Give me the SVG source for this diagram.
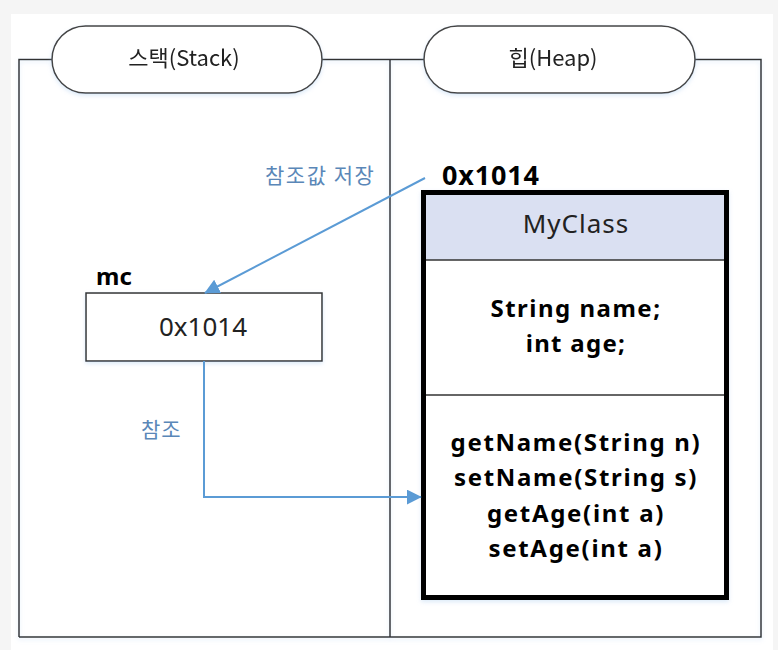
<svg xmlns="http://www.w3.org/2000/svg" width="778" height="650" viewBox="0 0 778 650">
<defs>
<style>
.frame{fill:none;stroke:#333;stroke-width:1.5}
.pill{fill:#fff;stroke:#444;stroke-width:1.5}
.t{font-family:"Noto Sans","Noto Sans CJK KR",sans-serif;fill:#222}
.kr{font-family:"Noto Sans CJK KR","Noto Sans",sans-serif}
.lbl{font-family:"Noto Sans CJK KR","Noto Sans",sans-serif;fill:#5a87b8;font-size:21px}
.b{font-weight:bold;fill:#000}
.conn{fill:none;stroke:#5b9bd5;stroke-width:2}
</style>
<marker id="ah2" viewBox="0 0 10 10" refX="9.5" refY="5" markerWidth="15" markerHeight="15" markerUnits="userSpaceOnUse" orient="auto">
<path d="M0,0 L10,5 L0,10 z" fill="#5b9bd5"/>
</marker>
<filter id="sh" x="-5%" y="-5%" width="110%" height="115%">
<feDropShadow dx="0" dy="2" stdDeviation="2" flood-color="#9dc3ec" flood-opacity="0.35"/>
</filter>
</defs>
<rect width="778" height="650" fill="#f5f5f5"/>
<rect x="11" y="14" width="762" height="636" fill="#fff"/>

<g id="frame" filter="url(#sh)">
<path class="frame" d="M19,637 V59.5 H52 M322,59.5 H424 M695,59.5 H761 V637 H19 M390,59.5 V637"/>
</g>

<g id="stack-title" filter="url(#sh)">
<rect class="pill" x="52" y="26" width="270" height="67" rx="33.5" ry="33.5"/>
<text class="t kr" x="184" y="66" font-size="22" text-anchor="middle" fill="#333">스택(Stack)</text>
</g>

<g id="heap-title" filter="url(#sh)">
<rect class="pill" x="424" y="26" width="271" height="67" rx="33.5" ry="33.5"/>
<text class="t kr" x="553" y="66" font-size="22" text-anchor="middle" fill="#333">힙(Heap)</text>
</g>

<g id="mc">
<text class="t b" x="96" y="285" font-size="24">mc</text>
<rect x="86" y="293" width="236" height="68" fill="#fff" stroke="#333" stroke-width="1.5" filter="url(#sh)"/>
<text class="t" x="203" y="336" font-size="26" text-anchor="middle">0x1014</text>
</g>

<g id="heap-object">
<text class="t b" x="442" y="185" font-size="27" letter-spacing="0.8">0x1014</text>
<g filter="url(#sh)">
<rect x="423.5" y="192.5" width="303" height="405" fill="#fff"/>
<rect x="423.5" y="192.5" width="303" height="67.5" fill="#dae0f2"/>
<line x1="423.5" y1="260" x2="726.5" y2="260" stroke="#333" stroke-width="1.5"/>
<line x1="423.5" y1="395" x2="726.5" y2="395" stroke="#333" stroke-width="1.5"/>
<rect x="423.5" y="192.5" width="303" height="405" fill="none" stroke="#000" stroke-width="5"/>
</g>
<text class="t" x="576" y="233" font-size="26" text-anchor="middle" letter-spacing="1">MyClass</text>
<text class="t b" x="576" y="317" font-size="24" text-anchor="middle" letter-spacing="1.5">String name;</text>
<text class="t b" x="576" y="352" font-size="24" text-anchor="middle" letter-spacing="1.3">int age;</text>
<text class="t b" x="576" y="451" font-size="24" text-anchor="middle" letter-spacing="1.7">getName(String n)</text>
<text class="t b" x="576" y="486" font-size="24" text-anchor="middle" letter-spacing="1.7">setName(String s)</text>
<text class="t b" x="576" y="522" font-size="24" text-anchor="middle" letter-spacing="1.7">getAge(int a)</text>
<text class="t b" x="576" y="557" font-size="24" text-anchor="middle" letter-spacing="1.7">setAge(int a)</text>
</g>

<g id="connectors">
<line class="conn" x1="425" y1="178" x2="205" y2="293" marker-end="url(#ah2)"/>
<polyline class="conn" points="204,361 204,497 421,497" marker-end="url(#ah2)"/>
<text class="lbl" x="265" y="183" letter-spacing="1.5">참조값 저장</text>
<text class="lbl" x="141" y="437" letter-spacing="1">참조</text>
</g>
</svg>
